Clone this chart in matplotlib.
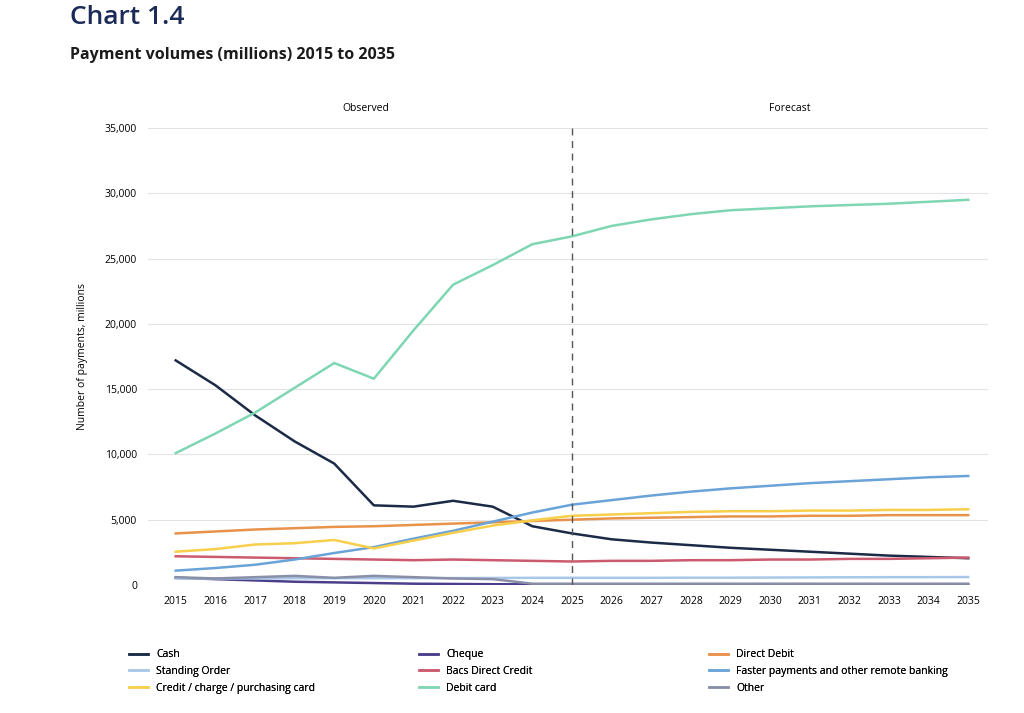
import matplotlib.pyplot as plt
import numpy as np

years = list(range(2015, 2036))

cash = [17200, 15300, 13000, 11000, 9300, 6100, 6000, 6450, 6000, 4500, 3950,
        3500, 3250, 3050, 2850, 2700, 2550, 2400, 2250, 2150, 2050]
cheque = [550, 450, 350, 250, 200, 150, 100, 80, 60, 50, 40,
          35, 30, 30, 30, 30, 30, 30, 30, 30, 30]
direct_debit = [3950, 4100, 4250, 4350, 4450, 4500, 4600, 4700, 4800, 4900, 5000,
                5100, 5150, 5200, 5250, 5250, 5300, 5300, 5350, 5350, 5350]
standing_order = [500, 500, 500, 520, 520, 520, 520, 530, 540, 550, 550,
                  550, 550, 560, 560, 570, 580, 590, 600, 600, 610]
bacs = [2200, 2150, 2100, 2050, 2000, 1950, 1900, 1950, 1900, 1850, 1800,
        1850, 1850, 1900, 1900, 1950, 1950, 2000, 2000, 2050, 2100]
faster = [1100, 1300, 1550, 1950, 2450, 2900, 3550, 4150, 4850, 5550, 6150,
          6500, 6850, 7150, 7400, 7600, 7800, 7950, 8100, 8250, 8350]
credit = [2550, 2750, 3100, 3200, 3450, 2800, 3400, 4000, 4550, 4950, 5300,
          5400, 5500, 5600, 5650, 5650, 5700, 5700, 5750, 5750, 5800]
debit = [10100, 11600, 13200, 15100, 17000, 15800, 19500, 23000, 24500, 26100, 26700,
         27500, 28000, 28400, 28700, 28850, 29000, 29100, 29200, 29350, 29500]
other = [600, 500, 600, 700, 550, 700, 600, 500, 450, 100, 100,
         100, 100, 100, 100, 100, 100, 100, 100, 100, 100]

series = [
    ("Cash", cash, "#1b2a47"),
    ("Cheque", cheque, "#4b3f8c"),
    ("Direct Debit", direct_debit, "#e8924a"),
    ("Standing Order", standing_order, "#a9c8e8"),
    ("Bacs Direct Credit", bacs, "#cc5a6e"),
    ("Faster payments and other remote banking", faster, "#6aa3d8"),
    ("Credit / charge / purchasing card", credit, "#f7cf4a"),
    ("Debit card", debit, "#7fd6b2"),
    ("Other", other, "#8a8fa8"),
]

plt.rcParams["font.family"] = ["Open Sans", "DejaVu Sans"]

fig = plt.figure(figsize=(10.24, 7.13), dpi=100)
ax = fig.add_axes([148 / 1024, 1 - 585 / 713, (988 - 148) / 1024, (585 - 128) / 713])

lines = []
for name, values, color in series:
    line, = ax.plot(years, values, color=color, linewidth=1.8, label=name)
    lines.append(line)

ax.axvline(2025, color="#555555", linestyle=(0, (5, 4)), linewidth=1)

ax.set_xlim(2014.3, 2035.5)
ax.set_ylim(0, 35000)
ax.set_xticks(years)
ax.set_yticks(range(0, 35001, 5000))
ax.yaxis.set_major_formatter(plt.FuncFormatter(lambda v, _: f"{int(v):,}"))
ax.tick_params(labelsize=7.5, length=0, pad=8)
ax.grid(axis="y", color="#e3e3e3", linewidth=0.8)
for side in ax.spines.values():
    side.set_visible(False)
ax.set_ylabel("Number of payments, millions", fontsize=7.5, labelpad=12)

ax.text(2019.8, 36300, "Observed", ha="center", fontsize=7.5)
ax.text(2030.5, 36300, "Forecast", ha="center", fontsize=7.5)

fig.text(70 / 1024, 1 - 18 / 713, "Chart 1.4", fontsize=19, fontweight="semibold",
         color="#1b2a57", va="center")
fig.text(70 / 1024, 1 - 55 / 713, "Payment volumes (millions) 2015 to 2035",
         fontsize=11.5, fontweight="bold", color="#1b1b1b", va="center")

# legend is row-major in three columns, so one legend per column
for col, x_px in enumerate([120, 410, 700]):
    column = lines[col::3]
    leg = fig.legend(column, [l.get_label() for l in column], loc="upper left",
                     bbox_to_anchor=(x_px / 1024, 1 - 640 / 713), frameon=False,
                     fontsize=7.5, handlelength=1.8, labelspacing=0.55)
    fig.add_artist(leg)

fig.savefig("out.png", dpi=100)
plt.close(fig)
